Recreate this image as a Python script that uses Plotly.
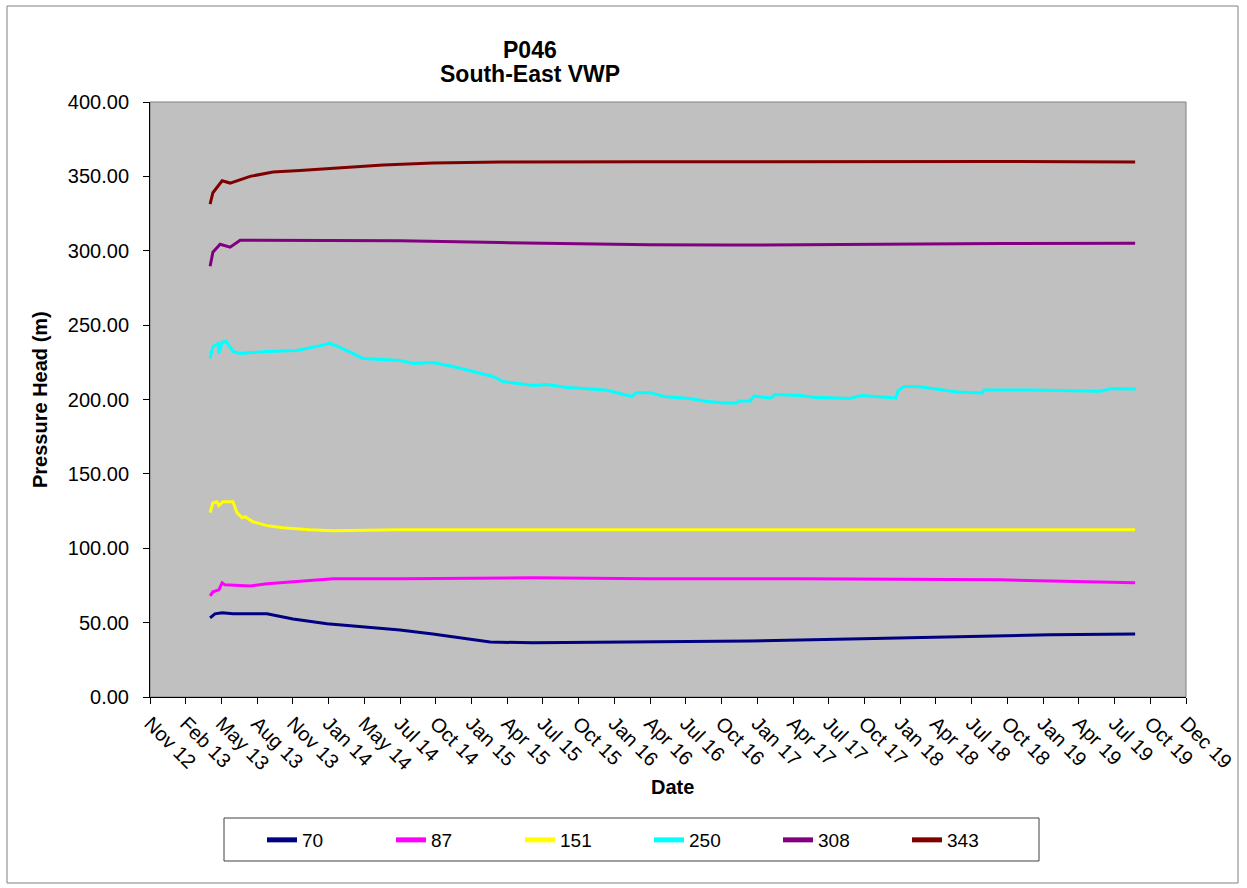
import pandas as pd
import plotly.graph_objects as go

# ---------------- data ----------------
tick_labels = ["Nov 12", "Feb 13", "May 13", "Aug 13", "Nov 13", "Jan 14", "May 14", "Jul 14",
               "Oct 14", "Jan 15", "Apr 15", "Jul 15", "Oct 15", "Jan 16", "Apr 16", "Jul 16",
               "Oct 16", "Jan 17", "Apr 17", "Jul 17", "Oct 17", "Jan 18", "Apr 18", "Jul 18",
               "Oct 18", "Jan 19", "Apr 19", "Jul 19", "Oct 19", "Dec 19"]
axis_start = "2012-11-01"
axis_end = "2019-12-01"

series_names = ["70", "87", "151", "250", "308", "343"]
series_colors = ["#000080", "#FF00FF", "#FFFF00", "#00FFFF", "#800080", "#800000"]

dates_70 = ["2013-03-31", "2013-04-12", "2013-04-30", "2013-05-27", "2013-08-20", "2013-10-24",
            "2014-01-17", "2014-04-27", "2014-07-18", "2014-10-08", "2015-01-01", "2015-02-28",
            "2015-06-15", "2016-04-02", "2016-12-08", "2017-08-14", "2018-04-21", "2018-12-27",
            "2019-07-27"]
head_70 = [53.2, 55.9, 56.6, 55.9, 55.9, 52.5, 49.2, 47.1, 45.1, 42.4, 39.0, 37.0,
           36.4, 37.0, 37.7, 39.0, 40.4, 41.8, 42.4]

dates_87 = ["2013-03-31", "2013-04-07", "2013-04-22", "2013-04-30", "2013-05-07", "2013-07-09",
            "2013-08-20", "2013-10-24", "2014-02-01", "2014-07-18", "2015-06-15", "2016-04-02",
            "2017-04-12", "2018-08-24", "2019-07-27"]
head_87 = [68.0, 70.7, 72.0, 76.8, 75.4, 74.7, 76.1, 77.4, 79.5, 79.5, 80.1, 79.5,
           79.5, 78.8, 76.8]

dates_151 = ["2013-03-31", "2013-04-07", "2013-04-17", "2013-04-22", "2013-05-02", "2013-05-27",
             "2013-06-06", "2013-06-19", "2013-06-26", "2013-07-16", "2013-08-20", "2013-09-29",
             "2013-12-05", "2014-02-01", "2014-07-18", "2015-03-25", "2016-04-02", "2017-04-12",
             "2018-08-24", "2019-07-27"]
head_151 = [123.9, 130.6, 131.3, 128.6, 131.3, 131.3, 123.9, 120.5, 121.2, 117.8, 115.2, 113.8,
            112.5, 111.8, 112.5, 112.5, 113.0, 112.8, 112.6, 112.5]

dates_250 = ["2013-03-31", "2013-04-07", "2013-04-20", "2013-04-22", "2013-04-30", "2013-05-10",
             "2013-05-27", "2013-06-14", "2013-08-20", "2013-11-03", "2013-12-23", "2014-01-24",
             "2014-02-18", "2014-03-15", "2014-04-17", "2014-05-22", "2014-07-18", "2014-08-20",
             "2014-10-08", "2014-11-27", "2015-01-26", "2015-03-07", "2015-04-01", "2015-05-06",
             "2015-06-15", "2015-07-20", "2015-09-08", "2015-10-18", "2015-11-29", "2015-12-17",
             "2016-02-17", "2016-02-27", "2016-04-02", "2016-05-07", "2016-07-09", "2016-08-23",
             "2016-10-06", "2016-11-05", "2016-11-10", "2016-12-08", "2016-12-18", "2017-01-29",
             "2017-02-08", "2017-04-12", "2017-05-17", "2017-08-14", "2017-09-11", "2017-12-07",
             "2017-12-12", "2017-12-27", "2018-01-31", "2018-05-09", "2018-07-10", "2018-07-15",
             "2018-11-04", "2019-05-01", "2019-05-28", "2019-07-29"]
head_250 = [227.6, 235.7, 237.7, 231.0, 238.4, 239.0,
            232.3, 231.0, 232.3, 233.0, 235.7, 237.7,
            235.0, 231.6, 227.6, 227.0, 226.3, 224.2,
            224.9, 222.2, 218.2, 215.5, 212.1, 210.8,
            209.4, 210.1, 208.0, 207.4, 206.3, 206.2,
            202.0, 204.6, 204.6, 202.0, 200.7, 198.6,
            197.6, 197.6, 199.0, 199.0, 202.4, 201.0,
            203.4, 202.7, 201.5, 200.7, 202.7, 201.0,
            205.8, 208.7, 208.7, 205.0, 204.4, 206.4,
            206.4, 205.5, 207.3, 207.0]

dates_308 = ["2013-03-31", "2013-04-07", "2013-04-25", "2013-05-20", "2013-06-14", "2014-07-18",
             "2015-03-25", "2016-04-02", "2016-10-06", "2017-08-14", "2018-08-24", "2019-07-27"]
head_308 = [289.6, 299.0, 304.4, 302.4, 307.0, 306.8, 305.5, 304.0, 303.8, 304.4, 304.8, 305.0]

dates_343 = ["2013-03-31", "2013-04-07", "2013-04-30", "2013-05-20", "2013-07-09", "2013-09-04",
             "2013-11-10", "2014-02-01", "2014-06-06", "2014-10-08", "2015-03-25", "2016-04-02",
             "2017-04-12", "2018-08-24", "2019-07-27"]
head_343 = [331.3, 339.0, 347.0, 345.5, 350.0, 353.0, 354.0, 355.5, 357.6, 359.0, 359.6, 359.8,
            360.0, 360.0, 359.6]

all_dates = [dates_70, dates_87, dates_151, dates_250, dates_308, dates_343]
all_heads = [head_70, head_87, head_151, head_250, head_308, head_343]

# ---------------- figure ----------------
W, H = 1247, 888
L, R, T, B = 150, 1186, 102, 697  # plot area in pixels


def px(x):
    return (x - L) / (R - L)


def py(y):
    return (B - y) / (B - T)


FONT = "Arial, 'Liberation Sans', sans-serif"

fig = go.Figure()
for name, col, d, h in zip(series_names, series_colors, all_dates, all_heads):
    fig.add_trace(go.Scatter(x=d, y=h, mode="lines", name=name,
                             line=dict(color=col, width=3)))

tickvals = pd.date_range(axis_start, axis_end, periods=len(tick_labels))

fig.update_layout(
    width=W, height=H,
    margin=dict(l=L, r=W - R, t=T, b=H - B),
    paper_bgcolor="white",
    plot_bgcolor="#C0C0C0",
    font=dict(family=FONT, size=20, color="black"),
    showlegend=True,
    legend=dict(orientation="h", x=px(649), y=py(840), xanchor="center", yanchor="middle",
                font=dict(size=19), bgcolor="rgba(0,0,0,0)", itemwidth=30,
                entrywidth=84, entrywidthmode="pixels",
                tracegroupgap=0, itemsizing="constant"),
    xaxis=dict(type="date", range=[axis_start, axis_end], tickvals=tickvals, ticktext=tick_labels,
               tickangle=45, ticks="outside", ticklen=6, tickcolor="black",
               showgrid=False, zeroline=False, showline=True, linecolor="black", linewidth=1,
               tickfont=dict(size=20)),
    yaxis=dict(range=[0, 400], dtick=50, tickformat=".2f", ticks="outside", ticklen=6,
               tickcolor="black", showgrid=False, zeroline=False, showline=True,
               linecolor="black", linewidth=1, tickfont=dict(size=20), ticklabelstandoff=10),
)

# plot-area border (gray) and outer chart border
fig.add_shape(type="rect", xref="paper", yref="paper", x0=0, x1=1, y0=0, y1=1,
              line=dict(color="#808080", width=1), layer="below")
fig.add_shape(type="rect", xref="paper", yref="paper", x0=px(7), x1=px(1238), y0=py(6), y1=py(883),
              line=dict(color="#808080", width=1))
# legend box
fig.add_shape(type="rect", xref="paper", yref="paper", x0=px(224), x1=px(1039), y0=py(818), y1=py(861),
              line=dict(color="#404040", width=1))

# titles
fig.add_annotation(text="P046", xref="paper", yref="paper",
                   x=px(530), y=py(50), xanchor="center", yanchor="middle", showarrow=False,
                   font=dict(size=23, family=FONT, weight="bold"))
fig.add_annotation(text="South-East VWP", xref="paper", yref="paper",
                   x=px(530), y=py(74), xanchor="center", yanchor="middle", showarrow=False,
                   font=dict(size=23, family=FONT, weight="bold"))
fig.add_annotation(text="Pressure Head (m)", xref="paper", yref="paper", textangle=-90,
                   x=px(40), y=py(400), xanchor="center", yanchor="middle", showarrow=False,
                   font=dict(size=20, family=FONT, weight="bold"))
fig.add_annotation(text="Date", xref="paper", yref="paper",
                   x=px(672), y=py(787), xanchor="center", yanchor="middle", showarrow=False,
                   font=dict(size=20, family=FONT, weight="bold"))

fig.write_html("out.html", config={"displayModeBar": False},
               post_script="document.body.style.margin='0';")
